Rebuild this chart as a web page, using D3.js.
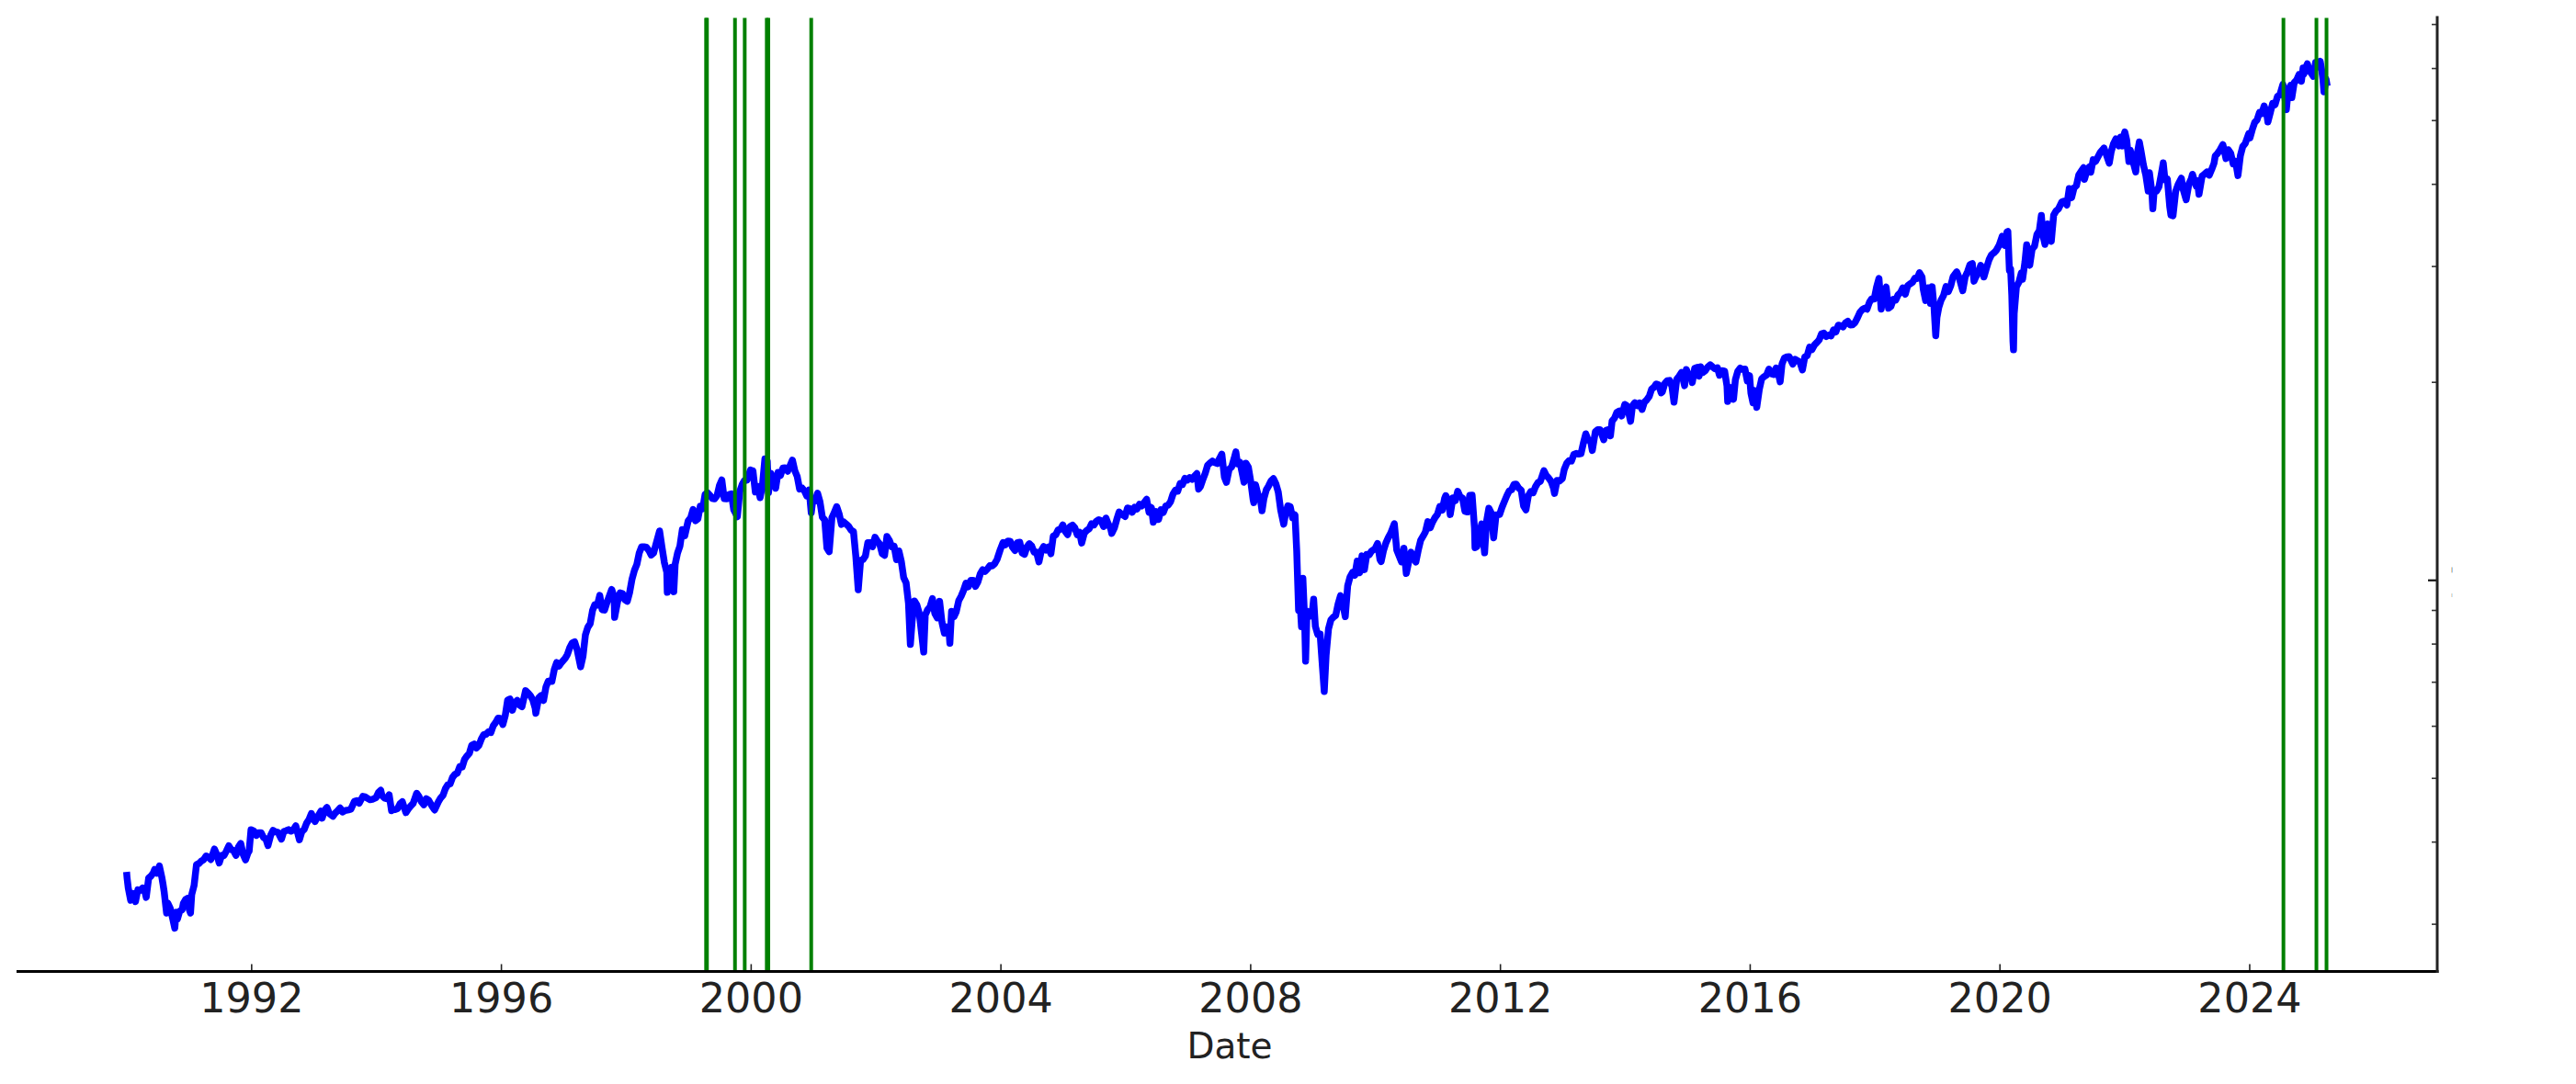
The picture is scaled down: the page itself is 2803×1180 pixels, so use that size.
<!DOCTYPE html>
<html><head><meta charset="utf-8">
<script src="https://cdn.jsdelivr.net/npm/d3@7"></script>
<style>body{margin:0;background:#fff}svg{display:block;background:#fff}</style>
</head><body><svg id="c" width="2803" height="1180"></svg>
<script>
// ---- data (S&P 500 closes, log scale) ----
const series = `1990-01-02 359.7;1990-01-05 352.2;1990-01-12 339.9;1990-01-26 325.8;1990-02-09 333.6;1990-02-23 324.2;1990-03-09 337.9;1990-03-23 337.2;1990-04-06 340.1;1990-04-20 335.1;1990-04-27 329.1;1990-05-11 352.0;1990-05-25 354.6;1990-06-08 358.7;1990-06-15 362.9;1990-06-29 358.0;1990-07-13 367.3;1990-07-27 353.4;1990-08-03 344.9;1990-08-10 335.5;1990-08-24 311.5;1990-08-31 322.6;1990-09-14 316.8;1990-09-28 306.1;1990-10-11 295.5;1990-10-19 312.5;1990-10-26 304.7;1990-11-09 313.7;1990-11-23 315.1;1990-11-30 322.2;1990-12-14 326.8;1990-12-28 328.3;
1991-01-04 315.2;1991-01-11 311.5;1991-01-18 332.2;1991-02-01 343.1;1991-02-15 369.1;1991-03-01 370.5;1991-03-15 373.6;1991-03-28 375.2;1991-04-12 380.4;1991-04-26 379.0;1991-05-10 375.7;1991-05-31 389.8;1991-06-14 382.3;1991-06-28 371.2;1991-07-12 381.2;1991-07-26 380.9;1991-08-09 387.1;1991-08-23 394.2;1991-09-06 389.1;1991-09-20 387.6;1991-10-04 381.2;1991-10-18 392.5;1991-11-01 397.4;1991-11-15 382.6;1991-11-29 375.2;1991-12-13 384.5;1991-12-20 387.0;1991-12-31 417.1;
1992-01-17 415.1;1992-01-31 408.8;1992-02-14 412.5;1992-02-28 412.7;1992-03-13 405.8;1992-03-27 403.5;1992-04-08 394.5;1992-04-24 409.0;1992-05-08 416.1;1992-05-22 414.0;1992-06-05 413.5;1992-06-26 403.5;1992-07-10 414.6;1992-07-24 415.6;1992-08-07 417.2;1992-08-21 414.9;1992-09-04 417.1;1992-09-18 422.9;1992-10-09 402.7;1992-10-23 414.1;1992-11-06 417.6;1992-11-20 426.7;1992-12-04 432.1;1992-12-18 441.3;
1993-01-08 429.1;1993-01-29 438.8;1993-02-12 445.0;1993-02-19 434.2;1993-03-05 446.1;1993-03-19 450.9;1993-04-02 441.4;1993-04-23 437.0;1993-05-07 442.3;1993-05-21 445.8;1993-06-04 450.1;1993-06-18 443.7;1993-07-02 445.8;1993-07-23 447.1;1993-08-06 448.1;1993-08-27 460.5;1993-09-10 461.7;1993-09-24 457.6;1993-10-15 468.7;1993-10-29 467.8;1993-11-12 465.4;1993-11-26 463.1;1993-12-10 463.9;1993-12-31 466.5;
1994-01-14 474.9;1994-01-28 478.7;1994-02-04 469.8;1994-02-18 466.1;1994-03-04 464.7;1994-03-18 471.1;1994-04-01 445.8;1994-04-08 447.1;1994-04-22 447.6;1994-05-06 449.0;1994-05-20 456.5;1994-06-03 460.1;1994-06-24 442.8;1994-07-08 448.4;1994-07-22 453.1;1994-08-05 457.1;1994-08-26 473.8;1994-09-09 468.2;1994-09-23 459.7;1994-10-07 455.1;1994-10-21 464.9;1994-11-04 462.3;1994-11-25 452.3;1994-12-09 446.9;1994-12-30 459.3;
1995-01-13 466.0;1995-01-27 470.4;1995-02-10 481.5;1995-02-24 488.1;1995-03-10 489.6;1995-03-24 501.0;1995-04-07 506.4;1995-04-21 508.5;1995-05-05 520.1;1995-05-19 519.2;1995-06-02 533.4;1995-06-16 539.8;1995-06-30 544.8;1995-07-14 560.3;1995-07-28 562.9;1995-08-11 555.1;1995-08-25 560.1;1995-09-08 572.7;1995-09-22 581.7;1995-10-06 582.6;1995-10-20 587.5;1995-11-03 585.9;1995-11-17 600.1;1995-12-01 607.0;1995-12-15 616.3;1995-12-29 615.9;
1996-01-12 602.7;1996-01-26 621.6;1996-02-09 656.4;1996-02-23 659.1;1996-03-08 633.5;1996-03-22 650.6;1996-04-05 655.9;1996-04-19 645.1;1996-05-03 641.6;1996-05-24 678.5;1996-06-07 673.3;1996-06-21 666.8;1996-07-05 657.4;1996-07-19 638.7;1996-07-23 626.9;1996-08-09 662.1;1996-08-23 667.0;1996-09-06 655.7;1996-09-20 687.0;1996-10-04 701.5;1996-10-25 700.7;1996-11-08 730.8;1996-11-22 748.7;1996-12-06 739.6;1996-12-20 748.9;
1997-01-10 759.5;1997-01-24 770.5;1997-02-07 789.6;1997-02-21 801.8;1997-03-07 805.0;1997-03-21 784.1;1997-04-11 737.7;1997-04-25 765.4;1997-05-09 824.8;1997-05-23 847.0;1997-06-06 858.0;1997-06-20 898.7;1997-07-03 916.9;1997-07-18 915.3;1997-08-01 947.1;1997-08-15 900.8;1997-08-29 899.5;1997-09-12 923.9;1997-09-26 945.2;1997-10-10 967.0;1997-10-24 941.6;1997-10-27 877.0;1997-11-14 928.4;1997-11-28 955.4;1997-12-12 953.4;1997-12-26 932.7;
1998-01-09 927.7;1998-01-23 957.6;1998-02-06 1003.5;1998-02-20 1034.2;1998-03-06 1055.7;1998-03-20 1099.2;1998-04-03 1122.7;1998-04-17 1122.7;1998-05-01 1121.0;1998-05-15 1108.7;1998-05-29 1090.8;1998-06-12 1098.8;1998-06-26 1133.2;1998-07-17 1186.8;1998-07-31 1120.7;1998-08-14 1062.8;1998-08-28 1027.1;1998-08-31 957.3;1998-09-11 1009.1;1998-09-25 1044.8;1998-10-08 959.4;1998-10-16 1056.4;1998-10-30 1098.7;1998-11-13 1125.7;1998-11-27 1192.3;1998-12-11 1166.5;1998-12-31 1229.2;
1999-01-15 1243.3;1999-01-29 1279.6;1999-02-12 1230.1;1999-02-26 1238.3;1999-03-12 1294.6;1999-03-26 1282.8;1999-04-09 1348.4;1999-04-23 1356.9;1999-05-07 1345.0;1999-05-21 1330.3;1999-06-04 1327.8;1999-06-18 1342.8;1999-07-02 1391.2;1999-07-16 1418.8;1999-07-30 1328.7;1999-08-13 1327.7;1999-08-27 1348.3;1999-09-10 1351.7;1999-09-24 1277.4;1999-10-15 1247.4;1999-10-29 1362.9;1999-11-12 1396.1;1999-11-26 1416.6;1999-12-10 1417.0;1999-12-31 1469.3;
2000-01-07 1441.5;2000-01-14 1465.2;2000-01-28 1360.2;2000-02-11 1387.1;2000-02-25 1333.4;2000-03-10 1395.1;2000-03-24 1527.5;2000-04-07 1516.4;2000-04-14 1356.6;2000-04-28 1452.4;2000-05-12 1421.0;2000-05-26 1378.0;2000-06-09 1457.0;2000-06-23 1441.5;2000-07-07 1478.9;2000-07-21 1480.2;2000-08-04 1462.9;2000-08-18 1491.7;2000-09-01 1520.8;2000-09-15 1465.8;2000-09-29 1436.5;2000-10-13 1374.2;2000-10-27 1379.6;2000-11-10 1366.0;2000-11-24 1341.8;2000-12-08 1369.9;2000-12-20 1264.7;2000-12-29 1320.3;
2001-01-12 1318.3;2001-01-26 1355.0;2001-02-09 1314.8;2001-02-23 1245.9;2001-03-09 1233.4;2001-03-22 1117.6;2001-04-04 1103.3;2001-04-20 1243.0;2001-05-04 1266.6;2001-05-18 1292.0;2001-06-01 1260.7;2001-06-15 1214.4;2001-06-29 1224.4;2001-07-13 1215.7;2001-07-27 1205.8;2001-08-10 1190.2;2001-08-24 1184.9;2001-09-07 1085.8;2001-09-21 965.8;2001-10-05 1071.4;2001-10-19 1073.5;2001-11-02 1087.2;2001-11-16 1138.7;2001-11-30 1139.5;2001-12-14 1123.1;2001-12-28 1161.0;
2002-01-11 1145.6;2002-01-25 1133.3;2002-02-08 1096.2;2002-02-22 1089.8;2002-03-08 1164.3;2002-03-22 1148.7;2002-04-05 1122.7;2002-04-19 1125.2;2002-05-03 1073.4;2002-05-17 1106.6;2002-05-31 1067.1;2002-06-14 1007.3;2002-06-28 989.8;2002-07-12 921.4;2002-07-23 797.7;2002-08-02 864.2;2002-08-16 928.8;2002-08-30 916.1;2002-09-13 889.8;2002-09-27 827.4;2002-10-09 776.8;2002-10-18 884.4;2002-11-01 901.0;2002-11-15 909.8;2002-11-29 936.3;2002-12-13 889.5;2002-12-27 875.4;
2003-01-10 927.6;2003-01-24 861.4;2003-02-07 829.7;2003-02-21 848.2;2003-03-07 828.9;2003-03-11 800.7;2003-03-21 895.8;2003-04-04 878.9;2003-04-17 893.6;2003-05-02 930.1;2003-05-16 944.3;2003-05-30 963.6;2003-06-13 988.6;2003-06-27 976.2;2003-07-11 998.1;2003-07-25 998.7;2003-08-08 977.6;2003-08-22 993.1;2003-09-05 1021.4;2003-09-19 1036.3;2003-10-03 1029.9;2003-10-17 1039.3;2003-10-31 1050.7;2003-11-14 1050.4;2003-11-28 1058.2;2003-12-12 1074.1;2003-12-31 1111.9;
2004-01-16 1139.8;2004-01-30 1131.1;2004-02-13 1145.8;2004-02-27 1144.9;2004-03-12 1120.6;2004-03-26 1108.1;2004-04-09 1139.3;2004-04-23 1140.6;2004-05-07 1098.7;2004-05-21 1093.6;2004-06-04 1122.5;2004-06-18 1135.0;2004-07-02 1125.4;2004-07-16 1101.4;2004-07-30 1101.7;2004-08-13 1064.8;2004-08-27 1107.8;2004-09-10 1123.9;2004-09-24 1110.1;2004-10-08 1122.1;2004-10-22 1095.7;2004-11-05 1166.2;2004-11-19 1170.3;2004-12-03 1191.2;2004-12-17 1194.2;2004-12-31 1211.9;
2005-01-14 1184.5;2005-01-28 1171.4;2005-02-11 1205.3;2005-02-25 1211.4;2005-03-11 1200.1;2005-03-25 1171.4;2005-04-08 1181.2;2005-04-20 1137.5;2005-05-06 1178.8;2005-05-20 1189.3;2005-06-03 1196.0;2005-06-17 1217.0;2005-07-01 1211.9;2005-07-15 1227.9;2005-07-29 1234.2;2005-08-12 1230.4;2005-08-26 1205.1;2005-09-09 1241.5;2005-09-23 1215.3;2005-10-07 1195.9;2005-10-13 1176.8;2005-10-28 1198.4;2005-11-11 1234.7;2005-11-25 1268.3;2005-12-09 1259.4;2005-12-30 1248.3;
2006-01-13 1286.0;2006-01-27 1283.7;2006-02-10 1267.0;2006-02-24 1289.4;2006-03-10 1281.4;2006-03-24 1303.0;2006-04-07 1295.5;2006-04-21 1311.3;2006-05-05 1325.8;2006-05-19 1267.0;2006-06-02 1288.2;2006-06-13 1223.7;2006-06-30 1270.2;2006-07-14 1236.2;2006-07-28 1278.6;2006-08-11 1266.7;2006-08-25 1295.1;2006-09-08 1298.9;2006-09-22 1314.8;2006-10-06 1349.6;2006-10-20 1368.6;2006-11-03 1364.3;2006-11-17 1401.2;2006-12-01 1396.7;2006-12-15 1427.1;2006-12-29 1418.3;
2007-01-12 1430.7;2007-01-26 1422.2;2007-02-09 1438.1;2007-02-23 1451.2;2007-03-05 1374.1;2007-03-16 1387.0;2007-03-30 1420.9;2007-04-13 1452.9;2007-04-27 1494.1;2007-05-11 1505.9;2007-05-25 1515.7;2007-06-08 1507.7;2007-06-22 1502.6;2007-07-06 1530.4;2007-07-19 1553.1;2007-08-03 1433.1;2007-08-15 1406.7;2007-08-31 1474.0;2007-09-14 1484.3;2007-09-28 1526.8;2007-10-09 1565.2;2007-10-19 1500.6;2007-11-02 1509.7;2007-11-26 1407.2;2007-12-07 1504.7;2007-12-21 1484.5;
2008-01-04 1411.6;2008-01-18 1325.2;2008-01-22 1310.5;2008-02-01 1395.4;2008-02-15 1350.0;2008-02-29 1330.6;2008-03-10 1273.4;2008-03-21 1329.5;2008-04-04 1370.4;2008-04-18 1390.3;2008-05-02 1413.9;2008-05-16 1425.4;2008-05-30 1400.4;2008-06-13 1360.0;2008-06-27 1278.4;2008-07-15 1214.9;2008-07-25 1257.8;2008-08-08 1296.3;2008-08-22 1292.2;2008-09-05 1242.3;2008-09-19 1255.1;2008-09-29 1106.4;2008-10-10 899.2;2008-10-17 940.6;2008-10-27 848.9;2008-11-04 1005.8;2008-11-14 873.3;2008-11-20 752.4;2008-11-28 896.2;2008-12-12 879.7;2008-12-31 903.3;
2009-01-06 934.7;2009-01-16 850.1;2009-01-30 825.9;2009-02-13 826.8;2009-02-27 735.1;2009-03-09 676.5;2009-03-20 768.5;2009-04-03 842.5;2009-04-17 869.6;2009-05-01 877.5;2009-05-15 882.9;2009-05-29 919.1;2009-06-12 946.2;2009-06-26 918.9;2009-07-10 879.1;2009-07-24 979.3;2009-08-07 1010.5;2009-08-21 1026.1;2009-09-04 1016.4;2009-09-18 1068.3;2009-10-02 1025.2;2009-10-16 1087.7;2009-10-30 1036.2;2009-11-13 1093.5;2009-11-27 1091.5;2009-12-11 1106.4;2009-12-31 1115.1;
2010-01-15 1136.0;2010-01-29 1073.9;2010-02-05 1066.2;2010-02-19 1109.2;2010-03-05 1138.7;2010-03-19 1159.9;2010-04-02 1178.1;2010-04-23 1217.3;2010-05-07 1110.9;2010-05-21 1087.7;2010-06-04 1064.9;2010-06-18 1117.5;2010-07-02 1022.6;2010-07-16 1064.9;2010-07-30 1101.6;2010-08-13 1079.3;2010-08-27 1064.6;2010-09-10 1109.6;2010-09-24 1148.7;2010-10-08 1165.2;2010-10-22 1183.1;2010-11-05 1225.9;2010-11-19 1199.7;2010-12-03 1224.7;2010-12-17 1243.9;2010-12-31 1257.6;
2011-01-14 1293.2;2011-01-28 1276.3;2011-02-11 1329.2;2011-02-18 1343.0;2011-03-04 1321.2;2011-03-16 1256.9;2011-04-01 1332.4;2011-04-15 1319.7;2011-04-29 1363.6;2011-05-13 1337.8;2011-05-27 1331.1;2011-06-10 1271.0;2011-06-24 1268.5;2011-07-08 1343.8;2011-07-22 1345.0;2011-08-05 1199.4;2011-08-08 1119.5;2011-08-19 1123.5;2011-09-02 1174.0;2011-09-16 1216.0;2011-10-03 1099.2;2011-10-14 1224.6;2011-10-28 1285.1;2011-11-11 1263.9;2011-11-25 1158.7;2011-12-09 1255.2;2011-12-30 1257.6;
2012-01-13 1289.1;2012-01-27 1316.3;2012-02-10 1342.6;2012-02-24 1365.7;2012-03-09 1370.9;2012-03-23 1397.1;2012-04-05 1398.1;2012-04-20 1378.5;2012-05-04 1369.1;2012-05-18 1295.2;2012-06-01 1278.0;2012-06-15 1342.8;2012-06-29 1362.2;2012-07-13 1356.8;2012-07-27 1386.0;2012-08-10 1405.9;2012-08-24 1411.1;2012-09-14 1465.8;2012-09-28 1440.7;2012-10-12 1428.6;2012-10-26 1411.9;2012-11-09 1379.9;2012-11-15 1353.3;2012-11-30 1416.2;2012-12-14 1413.6;2012-12-31 1426.2;
2013-01-11 1472.1;2013-01-25 1503.0;2013-02-08 1517.9;2013-02-22 1515.6;2013-03-08 1551.2;2013-03-22 1556.9;2013-04-05 1553.3;2013-04-19 1555.3;2013-05-03 1614.4;2013-05-17 1667.5;2013-05-31 1630.7;2013-06-14 1626.7;2013-06-24 1573.1;2013-07-12 1680.2;2013-07-26 1691.7;2013-08-09 1691.4;2013-08-30 1633.0;2013-09-13 1688.0;2013-09-27 1691.8;2013-10-08 1655.5;2013-10-18 1744.5;2013-11-01 1761.6;2013-11-15 1798.2;2013-11-29 1805.8;2013-12-13 1775.3;2013-12-31 1848.4;
2014-01-10 1842.4;2014-01-24 1790.3;2014-02-03 1741.9;2014-02-14 1838.6;2014-02-28 1859.5;2014-03-14 1841.1;2014-03-28 1857.6;2014-04-11 1815.7;2014-04-25 1863.4;2014-05-09 1878.5;2014-05-23 1900.5;2014-06-06 1949.4;2014-06-20 1962.9;2014-07-03 1985.4;2014-07-18 1978.2;2014-08-01 1925.2;2014-08-08 1931.6;2014-08-22 1988.4;2014-09-05 2007.7;2014-09-19 2010.4;2014-10-03 1967.9;2014-10-15 1862.5;2014-10-31 2018.1;2014-11-14 2039.8;2014-11-28 2067.6;2014-12-16 1972.7;2014-12-26 2088.8;
2015-01-09 2044.8;2015-01-23 2051.8;2015-01-30 1995.0;2015-02-13 2097.0;2015-02-27 2104.5;2015-03-11 2040.2;2015-03-20 2108.1;2015-04-03 2067.0;2015-04-17 2081.2;2015-05-01 2108.3;2015-05-15 2122.7;2015-05-29 2107.4;2015-06-12 2094.1;2015-06-26 2101.5;2015-07-08 2046.7;2015-07-24 2079.7;2015-08-07 2077.6;2015-08-21 1970.9;2015-08-25 1867.6;2015-09-11 1961.1;2015-09-28 1881.8;2015-10-09 2014.9;2015-10-23 2075.2;2015-11-06 2099.2;2015-11-20 2089.2;2015-12-04 2091.7;2015-12-18 2005.6;2015-12-31 2043.9;
2016-01-08 1922.0;2016-01-20 1859.3;2016-01-29 1940.2;2016-02-11 1829.1;2016-02-26 1948.1;2016-03-11 2022.2;2016-03-24 2035.9;2016-04-08 2047.6;2016-04-22 2091.6;2016-05-06 2057.1;2016-05-20 2052.3;2016-06-03 2099.1;2016-06-10 2096.1;2016-06-27 2000.5;2016-07-08 2129.9;2016-07-22 2175.0;2016-08-05 2182.9;2016-08-19 2183.9;2016-09-09 2128.0;2016-09-23 2164.7;2016-10-07 2153.7;2016-10-21 2141.2;2016-11-04 2085.2;2016-11-18 2182.0;2016-12-02 2192.0;2016-12-16 2258.1;2016-12-30 2238.8;
2017-01-13 2274.6;2017-01-27 2294.7;2017-02-10 2316.1;2017-02-24 2367.3;2017-03-10 2372.6;2017-03-24 2344.0;2017-04-07 2355.5;2017-04-21 2348.7;2017-05-05 2399.3;2017-05-19 2381.7;2017-06-02 2439.1;2017-06-16 2433.2;2017-06-30 2423.4;2017-07-14 2459.3;2017-07-28 2472.1;2017-08-11 2441.3;2017-08-25 2443.1;2017-09-08 2461.4;2017-09-22 2502.2;2017-10-06 2549.3;2017-10-20 2575.2;2017-11-03 2587.8;2017-11-17 2578.9;2017-12-01 2642.2;2017-12-15 2675.8;2017-12-29 2673.6;
2018-01-12 2786.2;2018-01-26 2872.9;2018-02-08 2581.0;2018-02-23 2747.3;2018-03-09 2786.6;2018-03-23 2588.3;2018-04-06 2604.5;2018-04-20 2670.1;2018-05-04 2663.4;2018-05-18 2713.0;2018-06-01 2734.6;2018-06-15 2779.7;2018-06-29 2718.4;2018-07-13 2801.3;2018-07-27 2818.8;2018-08-10 2833.3;2018-08-24 2874.7;2018-09-07 2871.7;2018-09-20 2930.8;2018-10-05 2885.6;2018-10-12 2767.1;2018-10-26 2658.7;2018-11-09 2781.0;2018-11-23 2632.6;2018-12-03 2790.4;2018-12-14 2600.0;2018-12-24 2351.1;2018-12-31 2506.9;
2019-01-11 2596.3;2019-01-25 2664.8;2019-02-08 2707.9;2019-02-22 2792.7;2019-03-08 2743.1;2019-03-22 2800.7;2019-04-05 2892.7;2019-04-26 2939.9;2019-05-10 2881.4;2019-05-31 2752.1;2019-06-14 2887.0;2019-06-28 2941.8;2019-07-12 3013.8;2019-07-26 3025.9;2019-08-05 2844.7;2019-08-16 2888.7;2019-08-30 2926.5;2019-09-13 3007.4;2019-09-27 2961.8;2019-10-02 2887.6;2019-10-18 2986.2;2019-11-01 3066.9;2019-11-15 3120.5;2019-11-29 3141.0;2019-12-13 3168.8;2019-12-31 3230.8;
2020-01-17 3329.6;2020-01-31 3225.5;2020-02-14 3380.2;2020-02-19 3386.2;2020-02-28 2954.2;2020-03-06 2972.4;2020-03-13 2711.0;2020-03-20 2304.9;2020-03-23 2237.4;2020-03-27 2541.5;2020-04-09 2789.8;2020-04-24 2836.7;2020-05-08 2929.8;2020-05-15 2863.7;2020-05-29 3044.3;2020-06-08 3232.4;2020-06-12 3041.3;2020-06-26 3009.1;2020-07-10 3185.0;2020-07-24 3215.6;2020-08-07 3351.3;2020-08-21 3397.2;2020-09-02 3580.8;2020-09-11 3341.0;2020-09-23 3236.9;2020-10-09 3477.1;2020-10-30 3270.0;2020-11-13 3585.2;2020-11-27 3638.4;2020-12-11 3663.5;2020-12-31 3756.1;
2021-01-15 3768.3;2021-01-29 3714.2;2021-02-12 3934.8;2021-02-26 3811.2;2021-03-12 3943.3;2021-03-26 3974.5;2021-04-09 4128.8;2021-04-23 4180.2;2021-05-07 4232.6;2021-05-12 4063.0;2021-05-28 4204.1;2021-06-11 4247.4;2021-06-18 4166.5;2021-07-02 4352.3;2021-07-16 4327.2;2021-07-30 4395.3;2021-08-13 4468.0;2021-08-27 4509.4;2021-09-03 4535.4;2021-09-17 4433.0;2021-10-04 4300.5;2021-10-15 4471.4;2021-10-29 4605.4;2021-11-12 4682.9;2021-11-30 4567.0;2021-12-10 4712.0;2021-12-20 4568.0;2021-12-31 4766.2;
2022-01-03 4796.6;2022-01-14 4662.9;2022-01-27 4326.5;2022-02-04 4500.5;2022-02-18 4348.9;2022-02-24 4288.7;2022-03-08 4170.7;2022-03-18 4463.1;2022-03-29 4631.6;2022-04-08 4488.3;2022-04-22 4271.8;2022-05-06 4123.3;2022-05-20 3901.4;2022-05-27 4158.2;2022-06-10 3900.9;2022-06-16 3666.8;2022-06-24 3911.7;2022-07-08 3899.4;2022-07-22 3961.6;2022-08-05 4145.2;2022-08-16 4305.2;2022-08-26 4057.7;2022-09-09 4067.4;2022-09-23 3693.2;2022-09-30 3585.6;2022-10-12 3577.0;2022-10-28 3901.1;2022-11-11 3992.9;2022-11-30 4080.1;2022-12-09 3934.4;2022-12-28 3783.2;
2023-01-13 3999.1;2023-01-27 4070.6;2023-02-03 4136.5;2023-02-24 3970.0;2023-03-03 4045.6;2023-03-13 3855.8;2023-03-31 4109.3;2023-04-14 4137.6;2023-04-28 4169.5;2023-05-12 4124.1;2023-05-26 4205.5;2023-06-09 4298.9;2023-06-16 4409.6;2023-06-30 4450.4;2023-07-14 4505.4;2023-07-31 4589.0;2023-08-18 4369.7;2023-08-31 4507.7;2023-09-15 4450.3;2023-09-29 4288.1;2023-10-13 4327.8;2023-10-27 4117.4;2023-11-10 4415.2;2023-11-24 4559.3;2023-12-08 4604.4;2023-12-29 4769.8;
2024-01-05 4697.2;2024-01-19 4839.8;2024-02-02 4958.6;2024-02-16 5005.6;2024-03-01 5137.1;2024-03-15 5117.1;2024-03-28 5254.4;2024-04-12 5123.4;2024-04-19 4967.2;2024-05-03 5127.8;2024-05-17 5303.3;2024-05-31 5277.5;2024-06-14 5431.6;2024-06-28 5460.5;2024-07-16 5667.2;2024-07-26 5459.1;2024-08-05 5186.3;2024-08-16 5554.3;2024-08-30 5648.4;2024-09-06 5408.4;2024-09-20 5702.6;2024-10-04 5751.1;2024-10-18 5864.7;2024-11-01 5728.8;2024-11-11 6001.4;2024-11-15 5870.6;2024-11-29 6032.4;2024-12-06 6090.3;2024-12-20 5930.9;2024-12-31 5881.6;
2025-01-10 5827.0;2025-01-23 6118.7;2025-01-31 6040.5;2025-02-07 6026.0;2025-02-19 6144.2;2025-02-28 5954.5;2025-03-07 5770.2;2025-03-13 5521.5;2025-03-21 5667.6;2025-03-25 5776.7;2025-04-01 5633.1`;

const dates = series.split(";").map(s => s.trim().split(" ")[0]);
const closes = series.split(";").map(s => +s.trim().split(" ")[1]);

// vertical green signal lines
const signalDates = ["1999-04-15","1999-04-20","1999-10-01","1999-11-27","2000-04-04","2000-04-13","2000-12-20","2024-07-19","2025-01-28","2025-03-28"];

// tick values
const xTickYears = [1992,1996,2000,2004,2008,2012,2016,2020,2024];
const yMajorTicks = [1000];
const yMinorTicks = [300,400,500,600,700,800,900,2000,3000,4000,5000,6000,7000];
const xLabel = "Date";

// ---- drawing ----
const W = 2803, H = 1180;
const L = 18, R = 2652, T = 19.5, B = 1057.5;
const parse = d3.timeParse("%Y-%m-%d");
const data = dates.map((d, i) => ({date: parse(d), v: closes[i]}));

const [t0, t1] = d3.extent(data, d => d.date);
const padT = (t1 - t0) * 0.05;
const x = d3.scaleTime().domain([new Date(+t0 - padT), new Date(+t1 + padT)]).range([L, R]);

const [v0, v1] = d3.extent(closes);
const lpad = (Math.log10(v1) - Math.log10(v0)) * 0.05;
const y = d3.scaleLog().domain([Math.pow(10, Math.log10(v0) - lpad), Math.pow(10, Math.log10(v1) + lpad)]).range([B, T]);

const svg = d3.select("#c");
svg.append("rect").attr("width", W).attr("height", H).attr("fill", "#fff");

// price line
svg.append("path")
  .datum(data)
  .attr("fill", "none")
  .attr("stroke", "#0000ff")
  .attr("stroke-width", 7.5)
  .attr("stroke-linejoin", "round")
  .attr("stroke-linecap", "butt")
  .attr("d", d3.line().x(d => x(d.date)).y(d => y(d.v)));

// green signal lines
svg.append("g").selectAll("line").data(signalDates).join("line")
  .attr("x1", d => x(parse(d))).attr("x2", d => x(parse(d)))
  .attr("y1", T).attr("y2", B)
  .attr("stroke", "#008000").attr("stroke-width", 4);

// x axis (ticks inward)
const xAxis = d3.axisBottom(x)
  .tickValues(xTickYears.map(yv => new Date(yv, 0, 1)))
  .tickFormat(d3.timeFormat("%Y"))
  .tickSizeInner(-8).tickSizeOuter(0).tickPadding(13);
const gx = svg.append("g").attr("transform", `translate(0,${B})`).call(xAxis);
gx.select(".domain").remove();
gx.selectAll(".tick line").attr("stroke", "#222").attr("stroke-width", 1.6);
gx.selectAll(".tick text").attr("fill", "#222")
  .style("font-family", "'DejaVu Sans', sans-serif").style("font-size", "44.5px");

// right y axis (log) — minor and major ticks, inward
const gyMinor = svg.append("g").attr("transform", `translate(${R},0)`)
  .call(d3.axisRight(y).tickValues(yMinorTicks).tickSizeInner(-6).tickSizeOuter(0).tickFormat(""));
gyMinor.select(".domain").remove();
gyMinor.selectAll(".tick line").attr("stroke", "#333").attr("stroke-width", 1.6);
const gyMajor = svg.append("g").attr("transform", `translate(${R},0)`)
  .call(d3.axisRight(y).tickValues(yMajorTicks).tickSizeInner(-10).tickSizeOuter(0).tickFormat(""));
gyMajor.select(".domain").remove();
gyMajor.selectAll(".tick line").attr("stroke", "#111").attr("stroke-width", 2.2);

// spines
svg.append("line").attr("x1", L).attr("x2", R + 1.5).attr("y1", B).attr("y2", B)
  .attr("stroke", "#000").attr("stroke-width", 3);
svg.append("line").attr("x1", R).attr("x2", R).attr("y1", T - 2).attr("y2", B + 1.5)
  .attr("stroke", "#222").attr("stroke-width", 3);

// tiny right-side label residue (as in reference)
svg.append("text").attr("x", 2668).attr("y", 622).attr("text-anchor", "middle")
  .style("font-family", "'DejaVu Sans', sans-serif").style("font-size", "6px").attr("fill", "#222").text("|");
svg.append("text").attr("x", 2668).attr("y", 649).attr("text-anchor", "middle")
  .style("font-family", "'DejaVu Sans', sans-serif").style("font-size", "4px").attr("fill", "#444").text("|");

// x label
svg.append("text").attr("x", (L + R) / 2 + 3).attr("y", 1152).attr("text-anchor", "middle")
  .attr("fill", "#222").style("font-family", "'DejaVu Sans', sans-serif").style("font-size", "39px")
  .text(xLabel);
</script>
</body></html>
